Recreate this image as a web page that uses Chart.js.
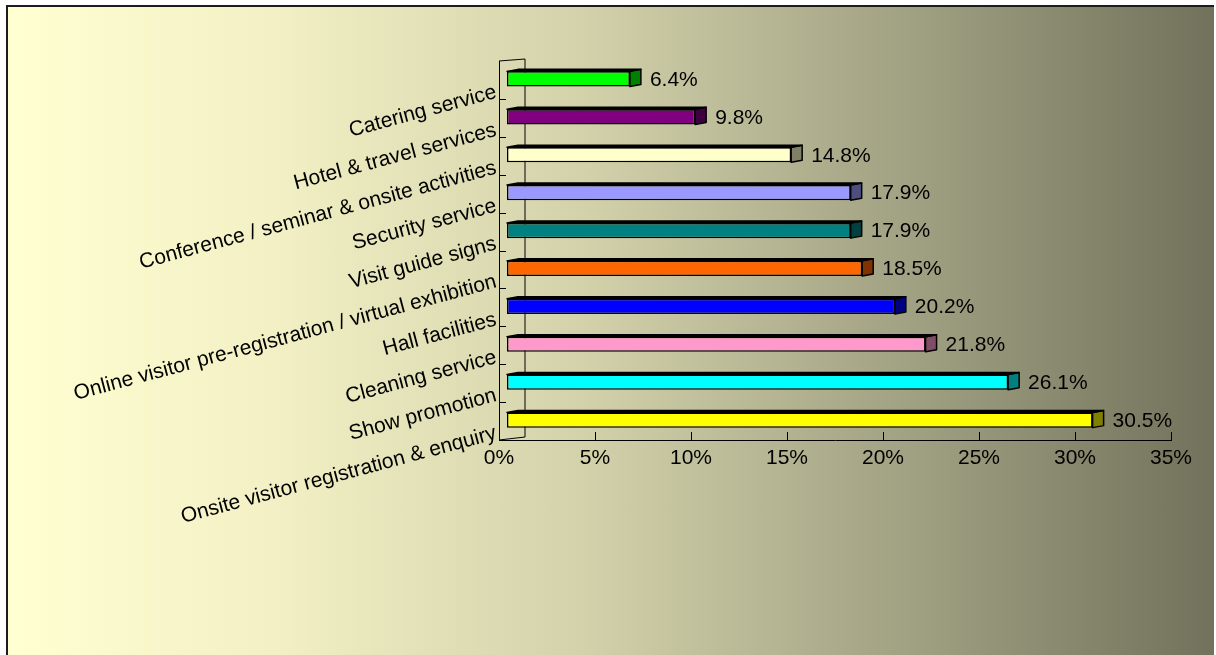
<!DOCTYPE html>
<html>
<head>
<meta charset="utf-8">
<title>Service ratings</title>
<script src="https://cdn.jsdelivr.net/npm/chart.js@4.4.1/dist/chart.umd.min.js"></script>
<style>
  html, body { margin: 0; padding: 0; background: #fff; }
  #frame {
    position: absolute; left: 6px; top: 5px; width: 1206px; height: 660px;
    border-left: 2px solid #1c1c1c; border-top: 2px solid #1c1c1c;
    background: linear-gradient(to right, #FFFFD2 0%, #F2F0C4 22%, #D2D1AA 48%, #A2A284 74%, #72725C 100%);
  }
  #barChart { position: absolute; left: 0; top: 0; }
</style>
</head>
<body>
<div id="frame"></div>
<canvas id="barChart" width="1216" height="655"></canvas>
<script>
// DATA
const categories = [
  "Catering service",
  "Hotel & travel services",
  "Conference / seminar & onsite activities",
  "Security service",
  "Visit guide signs",
  "Online visitor pre-registration / virtual exhibition",
  "Hall facilities",
  "Cleaning service",
  "Show promotion",
  "Onsite visitor registration & enquiry"
];
const percentages = [6.4, 9.8, 14.8, 17.9, 17.9, 18.5, 20.2, 21.8, 26.1, 30.5];
const frontColors = ["#00FF00", "#800080", "#FFFFCC", "#9999FF", "#008080", "#FF6600", "#0000FF", "#FF99CC", "#00FFFF", "#FFFF00"];
const sideColors = ["#008000", "#400040", "#808066", "#4D4D80", "#004040", "#803300", "#000080", "#804D66", "#008080", "#808000"];
const axisMax = 35;
const axisStep = 5;

const FONT = "'Liberation Sans', Arial, sans-serif";
const FONT_SIZE = 21;
Chart.defaults.font.family = FONT;
Chart.defaults.color = "#000";

// bars sit a little inside the 3D box
const BAR_DX = 8, BAR_DY = -1;
const END_W = 11, END_H = 2;
const WALL_DX = 26, WALL_DY = -2;

const bars3d = {
  id: "bars3d",
  beforeDatasetsDraw(chart) {
    const ctx = chart.ctx;
    const { left, top, bottom } = chart.chartArea;
    const x = chart.scales.x, y = chart.scales.y;

    ctx.save();
    ctx.strokeStyle = "#000";
    ctx.lineWidth = 1;
    // side wall
    ctx.beginPath();
    ctx.moveTo(left, top);
    ctx.lineTo(left + WALL_DX, top + WALL_DY);
    ctx.lineTo(left + WALL_DX, bottom + WALL_DY - 1);
    ctx.lineTo(left, bottom);
    ctx.stroke();
    // inward ticks on value axis
    for (let v = axisStep; v <= axisMax; v += axisStep) {
      const px = Math.round(x.getPixelForValue(v)) + 0.5;
      ctx.beginPath();
      ctx.moveTo(px, bottom);
      ctx.lineTo(px, bottom - 8);
      ctx.stroke();
    }
    // category dividers
    for (let i = 1; i < categories.length; i++) {
      const py = Math.round((y.getPixelForValue(i - 1) + y.getPixelForValue(i)) / 2) + 0.5;
      ctx.beginPath();
      ctx.moveTo(left, py);
      ctx.lineTo(left + 7, py);
      ctx.stroke();
    }
    ctx.restore();

    ctx.save();
    ctx.translate(BAR_DX, BAR_DY);
  },
  afterDatasetsDraw(chart) {
    const ctx = chart.ctx;
    const meta = chart.getDatasetMeta(0);
    ctx.strokeStyle = "#000";
    ctx.lineWidth = 1.5;
    ctx.lineJoin = "round";
    meta.data.forEach((bar, i) => {
      const p = bar.getProps(["x", "y", "base", "height"], true);
      const t = p.y - p.height / 2, b = p.y + p.height / 2;
      ctx.fillStyle = sideColors[i];
      // end face
      ctx.beginPath();
      ctx.moveTo(p.x, t);
      ctx.lineTo(p.x + END_W, t - END_H);
      ctx.lineTo(p.x + END_W, b - END_H);
      ctx.lineTo(p.x, b);
      ctx.closePath();
      ctx.fill();
      ctx.stroke();
      // top face
      ctx.fillStyle = "#000";
      ctx.beginPath();
      ctx.moveTo(p.base, t);
      ctx.lineTo(p.base + END_W, t - END_H);
      ctx.lineTo(p.x + END_W, t - END_H);
      ctx.lineTo(p.x, t);
      ctx.closePath();
      ctx.fill();
      ctx.stroke();
      // value label
      ctx.font = FONT_SIZE + "px " + FONT;
      ctx.textAlign = "left";
      ctx.textBaseline = "middle";
      ctx.fillText(percentages[i].toFixed(1) + "%", p.x + END_W + 9, p.y + 1);
    });
    ctx.restore();
  }
};

new Chart(document.getElementById("barChart"), {
  type: "bar",
  data: {
    labels: categories,
    datasets: [{
      data: percentages,
      backgroundColor: frontColors,
      borderColor: "#000",
      borderWidth: 1.5,
      borderSkipped: false,
      barPercentage: 0.4,
      categoryPercentage: 1
    }]
  },
  options: {
    indexAxis: "y",
    responsive: false,
    animation: false,
    layout: { padding: { top: 61, right: 45, bottom: 175, left: 0 } },
    plugins: {
      legend: { display: false },
      tooltip: { enabled: false }
    },
    scales: {
      x: {
        min: 0,
        max: axisMax,
        ticks: {
          stepSize: axisStep,
          padding: 6,
          font: { size: FONT_SIZE },
          callback: v => v + "%"
        },
        grid: { display: false, drawTicks: false },
        border: { display: true, color: "#000", width: 1 },
        afterFit: s => { s.height = 40; }
      },
      y: {
        ticks: {
          minRotation: 15,
          maxRotation: 15,
          padding: 3,
          labelOffset: 12,
          autoSkip: false,
          font: { size: FONT_SIZE }
        },
        grid: { display: false, drawTicks: false },
        border: { display: true, color: "#000", width: 1 },
        afterFit: s => { s.width = 499; }
      }
    }
  },
  plugins: [bars3d]
});
</script>
</body>
</html>
